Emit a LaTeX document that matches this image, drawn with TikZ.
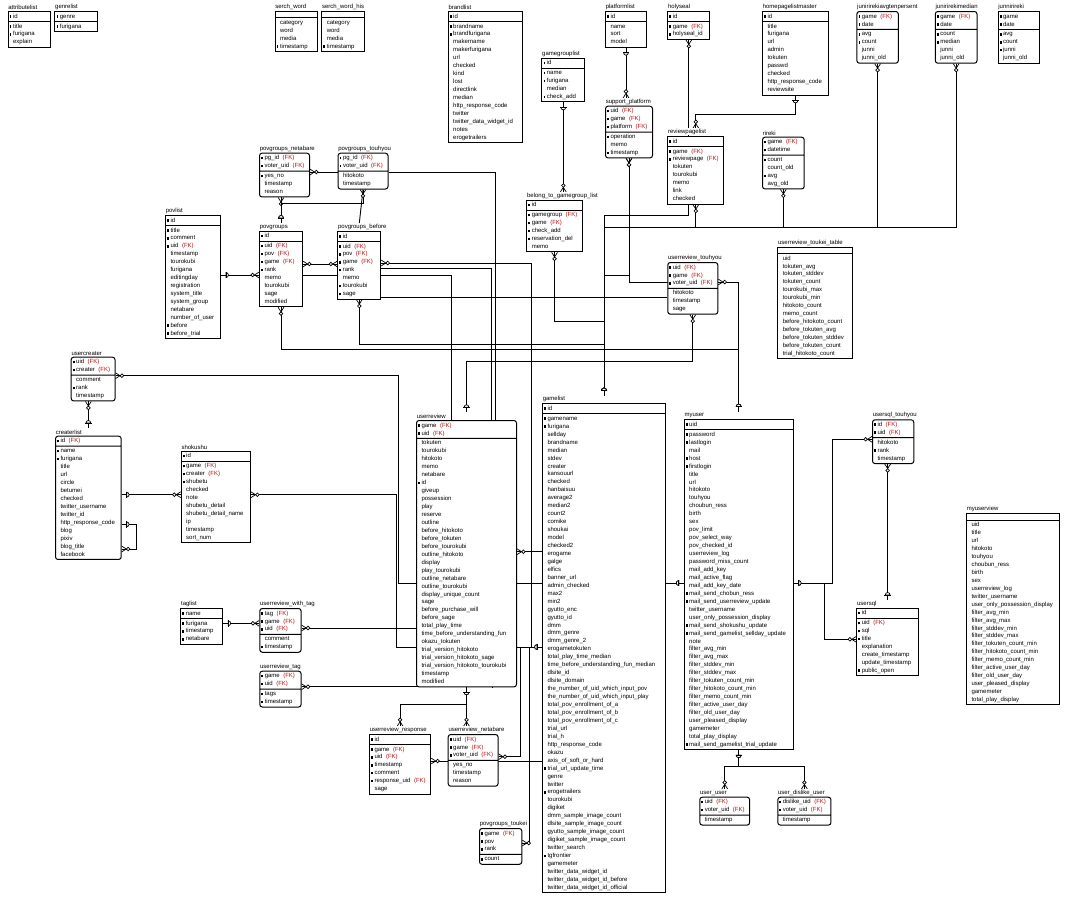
\documentclass[tikz,border=0pt]{standalone}
\usepackage{fontspec}
\newfontfamily\erfont{Liberation Sans}
\usetikzlibrary{shapes.multipart,decorations.markings}
\pgfdeclarelayer{bg}
\pgfsetlayers{bg,main}
\definecolor{fkred}{RGB}{180,20,20}
\newcommand\pkey{\llap{\rule[0.4pt]{1.8pt}{2.6pt}\hspace{1.6pt}}}
\newcommand\fkey{\hspace{3.5pt}\textcolor{fkred}{(FK)}}
\newcommand\entity[7][]{%
  \def\entkeys{#6}%
  \ifx\entkeys\empty\def\entbody{}\else\def\entbody{\strut#6\strut}\fi
  \node[ent,#1,minimum width=#4pt,label={[entlabel]north west:#5}] (#2) at (#3)
    {\entbody\nodepart{two}\strut#7\strut};
  \coordinate (#2-top) at ([yshift=7.8pt]#2.north);}
\tikzset{
  ent/.style={rectangle split,rectangle split parts=2,rectangle split part align=left,
    draw,line width=1pt,fill=white,anchor=north west,align=left,
    inner xsep=5pt,inner ysep=0.5pt,font=\erfont\fontsize{6}{7.95}\selectfont},
  dep/.style={rounded corners=2.5pt},
  entlabel/.style={anchor=south west,inner sep=0.6pt,yshift=0.6pt,fill=white,
    font=\erfont\fontsize{6}{7}\selectfont},
  rel/.style={line width=0.9pt},
  onemark/.style={postaction={decorate,decoration={markings,mark=at position 0 with {
    \draw[line width=0.7pt,fill=white] (5pt,-2.4pt) arc[start angle=-90,end angle=90,radius=2.4pt] -- cycle;
    \draw[line width=0.7pt] (5pt,-3.2pt) -- (5pt,3.2pt);}}}},
  manymark/.style={postaction={decorate,decoration={markings,mark=at position 1 with {
    \draw[line width=0.7pt] (0pt,-2.9pt) -- (-4.5pt,0pt) -- (0pt,2.9pt);
    \draw[line width=0.7pt,fill=white] (-6.4pt,0pt) circle[radius=1.8pt];}}}},
  manyfrom/.style={postaction={decorate,decoration={markings,mark=at position 0 with {
    \draw[line width=0.7pt] (0pt,-2.9pt) -- (4.5pt,0pt) -- (0pt,2.9pt);
    \draw[line width=0.7pt,fill=white] (6.4pt,0pt) circle[radius=1.8pt];}}}}
}
\begin{document}
\begin{tikzpicture}[x=1pt,y=-1pt]
\useasboundingbox (0,0) rectangle (1071,900);

\entity{attributelist}{7.6,11}{42}{attributelist}{\pkey id}{\pkey title\\ \pkey furigana\\ explain}
\entity{genrelist}{54.4,11}{42.4}{genrelist}{\pkey genre}{\pkey furigana}
\entity{serchword}{274.5,11}{42}{serch\_word}{}{category\\ word\\ media\\ \pkey timestamp}
\entity{serchwordhis}{321.3,11}{42.7}{serch\_word\_his}{}{category\\ word\\ media\\ \pkey timestamp}
\entity{brandlist}{447.7,11}{74}{brandlist}{\pkey id}{\pkey brandname\\ \pkey brandfurigana\\ makername\\ makerfurigana\\ url\\ checked\\ kind\\ lost\\ directlink\\ median\\ http\_response\_code\\ twitter\\ twitter\_data\_widget\_id\\ notes\\ erogetrailers}
\entity{platformlist}{605,11}{41}{platformlist}{\pkey id}{name\\ sort\\ model}
\entity{holyseal}{667.3,11}{42}{holyseal}{\pkey id}{\pkey game\fkey\\ \pkey holyseal\_id}
\entity{homepagelistmaster}{762,11}{66}{homepagelistmaster}{\pkey id}{title\\ furigana\\ url\\ admin\\ tokuten\\ passwd\\ checked\\ http\_response\_code\\ reviewsite}
\entity[dep]{junirirekiavg}{856.4,11}{41.4}{junirirekiavgtenpersent}{\pkey game\fkey\\ \pkey date}{\pkey avg\\ \pkey count\\ junni\\ junni\_old}
\entity[dep]{junirirekimedian}{934.8,11}{41.7}{junirirekimedian}{\pkey game\fkey\\ \pkey date}{\pkey count\\ \pkey median\\ junni\\ junni\_old}
\entity{junnirireki}{997.6,11}{41.7}{junnirireki}{\pkey game\\ \pkey date}{\pkey avg\\ \pkey count\\ \pkey junni\\ junni\_old}
\entity{gamegrouplist}{541.4,57.7}{42.8}{gamegrouplist}{\pkey id}{\pkey name\\ \pkey furigana\\ median\\ \pkey check\_add}
\entity[dep]{supportplatform}{605,105.7}{47}{support\_platform}{\pkey uid\fkey\\ \pkey game\fkey\\ \pkey platform\fkey}{\pkey operation\\ memo\\ \pkey timestamp}
\entity{reviewpagelist}{667.3,136}{56}{reviewpagelist}{\pkey id}{\pkey game\fkey\\ \pkey reviewpage\fkey\\ tokuten\\ tourokubi\\ memo\\ link\\ checked}
\entity[dep]{rireki}{762,136.7}{41.7}{rireki}{\pkey game\fkey\\ \pkey datetime}{\pkey count\\ count\_old\\ \pkey avg\\ avg\_old}
\entity[dep]{povgroupsnetabare}{259,152.7}{50}{povgroups\_netabare}{\pkey pg\_id\fkey\\ \pkey voter\_uid\fkey}{\pkey yes\_no\\ timestamp\\ reason}
\entity[dep]{povgroupstouhyou}{337.5,152.7}{50}{povgroups\_touhyou}{\pkey pg\_id\fkey\\ \pkey voter\_uid\fkey}{hitokoto\\ timestamp}
\entity{povlist}{165,215}{55}{povlist}{\pkey id}{\pkey title\\ \pkey comment\\ \pkey uid\fkey\\ timestamp\\ tourokubi\\ furigana\\ editingday\\ registration\\ system\_title\\ system\_group\\ netabare\\ number\_of\_user\\ \pkey before\\ \pkey before\_trial}
\entity{povgroups}{259,230.7}{43}{povgroups}{\pkey id}{\pkey uid\fkey\\ \pkey pov\fkey\\ \pkey game\fkey\\ \pkey rank\\ memo\\ tourokubi\\ sage\\ modified}
\entity{povgroupsbefore}{337.3,231}{43}{povgroups\_before}{\pkey id}{\pkey uid\fkey\\ \pkey pov\fkey\\ \pkey game\fkey\\ \pkey rank\\ memo\\ \pkey tourokubi\\ \pkey sage}
\entity{belonggroup}{526.3,199.7}{55.3}{belong\_to\_gamegroup\_list}{\pkey id}{\pkey gamegroup\fkey\\ \pkey game\fkey\\ \pkey check\_add\\ \pkey reservation\_del\\ memo}
\entity[dep]{userreviewtouhyou}{667.3,262}{50}{userreview\_touhyou}{\pkey uid\fkey\\ \pkey game\fkey\\ \pkey voter\_uid\fkey}{hitokoto\\ timestamp\\ sage}
\entity{toukeitable}{777.3,246.7}{74.4}{userreview\_toukei\_table}{}{uid\\ tokuten\_avg\\ tokuten\_stddev\\ tokuten\_count\\ tourokubi\_max\\ tourokubi\_min\\ hitokoto\_count\\ memo\_count\\ before\_hitokoto\_count\\ before\_tokuten\_avg\\ before\_tokuten\_stddev\\ before\_tokuten\_count\\ trial\_hitokoto\_count}
\entity[dep]{usercreater}{70.7,356.7}{43.3}{usercreater}{\pkey uid\fkey\\ \pkey creater\fkey}{comment\\ \pkey rank\\ timestamp}
\entity[dep]{createrlist}{55,435.7}{65.7}{createrlist}{\pkey id\fkey}{\pkey name\\ \pkey furigana\\ title\\ url\\ circle\\ betumei\\ checked\\ twitter\_username\\ twitter\_id\\ http\_response\_code\\ blog\\ pixiv\\ blog\_title\\ facebook}
\entity{shokushu}{180.7,450.7}{69.3}{shokushu}{\pkey id}{\pkey game\fkey\\ \pkey creater\fkey\\ \pkey shubetu\\ checked\\ note\\ shubetu\_detail\\ shubetu\_detail\_name\\ ip\\ timestamp\\ sort\_num}
\entity[dep]{userreview}{416,420}{100}{userreview}{\pkey game\fkey\\ \pkey uid\fkey}{tokuten\\ tourokubi\\ hitokoto\\ memo\\ netabare\\ \pkey id\\ giveup\\ possession\\ play\\ reserve\\ outline\\ before\_hitokoto\\ before\_tokuten\\ before\_tourokubi\\ outline\_hitokoto\\ display\\ play\_tourokubi\\ outline\_netabare\\ outline\_tourokubi\\ display\_unique\_count\\ sage\\ before\_purchase\_will\\ before\_sage\\ total\_play\_time\\ time\_before\_understanding\_fun\\ okazu\_tokuten\\ trial\_version\_hitokoto\\ trial\_version\_hitokoto\_sage\\ trial\_version\_hitokoto\_tourokubi\\ timestamp\\ modified}
\entity{gamelist}{542,403.3}{123}{gamelist}{\pkey id}{\pkey gamename\\ \pkey furigana\\ sellday\\ brandname\\ median\\ stdev\\ creater\\ kansouurl\\ checked\\ hanbaisuu\\ average2\\ median2\\ count2\\ comike\\ shoukai\\ model\\ checked2\\ erogame\\ galge\\ elfics\\ banner\_url\\ admin\_checked\\ max2\\ min2\\ gyutto\_enc\\ gyutto\_id\\ dmm\\ dmm\_genre\\ dmm\_genre\_2\\ erogametokuten\\ total\_play\_time\_median\\ time\_before\_understanding\_fun\_median\\ dlsite\_id\\ dlsite\_domain\\ the\_number\_of\_uid\_which\_input\_pov\\ the\_number\_of\_uid\_which\_input\_play\\ total\_pov\_enrollment\_of\_a\\ total\_pov\_enrollment\_of\_b\\ total\_pov\_enrollment\_of\_c\\ trial\_url\\ trial\_h\\ http\_response\_code\\ okazu\\ axis\_of\_soft\_or\_hard\\ \pkey trial\_url\_update\_time\\ genre\\ twitter\\ \pkey erogetrailers\\ tourokubi\\ digiket\\ dmm\_sample\_image\_count\\ dlsite\_sample\_image\_count\\ gyutto\_sample\_image\_count\\ digiket\_sample\_image\_count\\ twitter\_search\\ \pkey tgfrontier\\ gamemeter\\ twitter\_data\_widget\_id\\ twitter\_data\_widget\_id\_before\\ twitter\_data\_widget\_id\_official}
\entity{myuser}{683.7,419.3}{109}{myuser}{\pkey uid}{\pkey password\\ \pkey lastlogin\\ mail\\ \pkey host\\ \pkey firstlogin\\ title\\ url\\ hitokoto\\ touhyou\\ choubun\_ress\\ birth\\ sex\\ pov\_limit\\ pov\_select\_way\\ pov\_checked\_id\\ userreview\_log\\ password\_miss\_count\\ mail\_add\_key\\ mail\_active\_flag\\ mail\_add\_key\_date\\ \pkey mail\_send\_chobun\_ress\\ \pkey mail\_send\_userreview\_update\\ twitter\_username\\ user\_only\_possession\_display\\ \pkey mail\_send\_shokushu\_update\\ \pkey mail\_send\_gamelist\_sellday\_update\\ note\\ filter\_avg\_min\\ filter\_avg\_max\\ filter\_stddev\_min\\ filter\_stddev\_max\\ filter\_tokuten\_count\_min\\ filter\_hitokoto\_count\_min\\ filter\_memo\_count\_min\\ filter\_active\_user\_day\\ filter\_old\_user\_day\\ user\_pleased\_display\\ gamemeter\\ total\_play\_display\\ \pkey mail\_send\_gamelist\_trial\_update}
\entity[dep]{usersqltouhyou}{872,419.3}{41.3}{usersql\_touhyou}{\pkey id\fkey\\ \pkey uid\fkey}{hitokoto\\ \pkey rank\\ timestamp}
\entity{usersql}{856.3,607.7}{61.7}{usersql}{\pkey id}{\pkey uid\fkey\\ \pkey sql\\ \pkey title\\ explanation\\ create\_timestamp\\ update\_timestamp\\ \pkey public\_open}
\entity{myuserview}{966,513.3}{92.7}{myuserview}{}{uid\\ title\\ url\\ hitokoto\\ touhyou\\ choubun\_ress\\ birth\\ sex\\ userreview\_log\\ twitter\_username\\ user\_only\_possession\_display\\ filter\_avg\_min\\ filter\_avg\_max\\ filter\_stddev\_min\\ filter\_stddev\_max\\ filter\_tokuten\_count\_min\\ filter\_hitokoto\_count\_min\\ filter\_memo\_count\_min\\ filter\_active\_user\_day\\ filter\_old\_user\_day\\ user\_pleased\_display\\ gamemeter\\ total\_play\_display}
\entity{taglist}{180.3,608}{42}{taglist}{\pkey name}{\pkey furigana\\ \pkey timestamp\\ \pkey netabare}
\entity[dep]{userreviewwithtag}{259.3,608}{41.3}{userreview\_with\_tag}{\pkey tag\fkey\\ \pkey game\fkey\\ \pkey uid\fkey}{comment\\ \pkey timestamp}
\entity[dep]{userreviewtag}{259.3,670.7}{41.3}{userreview\_tag}{\pkey game\fkey\\ \pkey uid\fkey}{\pkey tags\\ \pkey timestamp}
\entity{userreviewresponse}{369,734}{60.3}{userreview\_response}{\pkey id}{\pkey game\fkey\\ \pkey uid\fkey\\ \pkey timestamp\\ \pkey comment\\ \pkey response\_uid\fkey\\ sage}
\entity[dep]{userreviewnetabare}{447.7,734}{49.7}{userreview\_netabare}{\pkey uid\fkey\\ \pkey game\fkey\\ \pkey voter\_uid\fkey}{yes\_no\\ timestamp\\ reason}
\entity[dep]{povgroupstoukei}{479,828}{42.3}{povgroups\_toukei}{\pkey game\fkey\\ \pkey pov\\ \pkey rank}{\pkey count}
\entity[dep]{useruser}{699.3,796.7}{49.4}{user\_user}{\pkey uid\fkey\\ \pkey voter\_uid\fkey}{timestamp}
\entity[dep]{userdislikeuser}{777.3,796.7}{52.7}{user\_dislike\_user}{\pkey dislike\_uid\fkey\\ \pkey voter\_uid\fkey}{timestamp}

\coordinate (glleft) at (gamelist.west |- 0,647);
\coordinate (muleft) at (myuser.west |- 0,583);
\coordinate (muright) at (myuser.east |- 0,583);

\begin{pgfonlayer}{bg}
\fill[white] (0,0) rectangle (1071,900);
\draw[rel] (userreview.north -| 495.7,0) |- (povgroupstouhyou.east |- 0,172);
\draw[rel,manymark] (povgroupstouhyou.west |- 0,172) -- (povgroupsnetabare.east |- 0,172);
\draw[rel] (povgroupstouhyou.south) -- (povgroupsbefore-top);
\draw[rel] (povgroups.east |- 0,275) -| (userreview.north -| 451.7,0);
\draw[rel] (povgroupsbefore.east |- 0,268) -| (userreview.north -| 491.7,0);
\draw[rel] (povgroupsbefore.south) |- (userreviewtouhyou.west |- 0,297);
\draw[rel,manyfrom,manymark] (povgroups.east |- 0,264) -- (povgroupsbefore.west |- 0,264);
\draw[rel,manymark] (gamelist.west |- 0,551.7) -- (userreview.east |- 0,551.7);
\draw[rel,manymark] (userreview.west |- 0,628) -- (userreviewwithtag.east |- 0,628);
\draw[rel,manymark] (userreview.south -| 492,0) |- (userreviewtag.east |- 0,686.7);
\draw[rel,manymark] (gamelist.west |- 0,761) -- (userreviewresponse.east |- 0,761);
\draw[rel,manymark] (glleft) -- (520,647) |- (userreviewnetabare.east |- 0,756.7);
\draw[rel,manymark] (glleft) -- (529.3,647) |- (povgroupstoukei.east |- 0,843);
\draw[rel,onemark] (muleft) -- (userreview.east |- 0,583);

\draw[rel,onemark,manymark] (platformlist.south) -- (platformlist.south |- supportplatform-top);
\draw[rel,onemark,manymark] (gamegrouplist.south) -- (gamegrouplist.south |- belonggroup-top);
\draw[rel,onemark,manymark] (homepagelistmaster.south) -- ++(0,19) -| (reviewpagelist-top);
\draw[rel,onemark,manymark] (gamelist-top) |- (holyseal.south |- 0,215) -- (holyseal.south);
\draw[rel,onemark,manymark] (gamelist-top) |- (reviewpagelist.south |- 0,227) -- (reviewpagelist.south);
\draw[rel,onemark,manymark] (gamelist-top) |- (rireki.south |- 0,227) -- (rireki.south);
\draw[rel,onemark,manymark] (gamelist-top) |- (junirirekiavg.south |- 0,227) -- (junirirekiavg.south);
\draw[rel,onemark,manymark] (gamelist-top) |- (junirirekimedian.south |- 0,227) -- (junirirekimedian.south);
\draw[rel,onemark,manymark] (gamelist-top) |- (supportplatform.south |- 0,275) -- (supportplatform.south);
\draw[rel,onemark,manymark] (gamelist-top) |- (belonggroup.south |- 0,321) -- (belonggroup.south);
\draw[rel,onemark,manymark] (gamelist-top) |- (povgroupsbefore.south |- 0,344) -- (povgroupsbefore.south);
\draw[rel,onemark,manymark] (myuser-top) |- (supportplatform.south |- 0,282) -- (supportplatform.south);
\draw[rel,onemark,manymark] (myuser-top) |- (povgroups.south |- 0,349) -- (povgroups.south);
\draw[rel,onemark,manymark] (myuser-top) |- (userreviewtouhyou.north east |- 0,282);
\draw[rel,onemark,manymark] (userreview-top) |- (userreviewtouhyou.south |- 0,361) -- (userreviewtouhyou.south);
\draw[rel,onemark,manymark] (povgroups-top) -- (povgroups-top |- povgroupsnetabare.south);
\draw[rel,onemark,manymark] (povgroups-top) |- (povgroupstouhyou.south |- 0,203) -- (povgroupstouhyou.south);
\draw[rel,onemark,manymark] (povlist.east |- 0,275) -- (povgroups.west |- 0,275);
\draw[rel,onemark,manymark] (glleft) -- (531,647) |- (povgroupsbefore.east |- 0,263);
\draw[rel,onemark,manymark] (glleft) -- (396.7,647) |- (shokushu.east |- 0,494.7);
\draw[rel,onemark,manymark] (muleft) -- (398.3,583) |- (usercreater.east |- 0,375.7);
\draw[rel,onemark,manymark] (createrlist.east |- 0,494.7) -- (shokushu.west |- 0,494.7);
\draw[rel,onemark,manymark] (createrlist.east |- 0,524.3) -- (136.7,524.3) |- (createrlist.east |- 0,549);
\draw[rel,onemark,manymark] (createrlist-top) -- (createrlist-top |- usercreater.south);
\draw[rel,onemark,manymark] (taglist.east |- 0,623.3) -- (userreviewwithtag.west |- 0,623.3);
\draw[rel,onemark,manymark] (userreview.south) -- (userreview.south |- 0,704) -| (userreviewresponse-top);
\draw[rel,onemark,manymark] (userreview.south) -- (userreview.south |- userreviewnetabare-top);
\draw[rel,onemark,manymark] (muright) -- (832.3,583) |- (usersqltouhyou.west |- 0,439.3);
\draw[rel,onemark,manymark] (muright) -- (824.3,583) |- (usersql.west |- 0,639.3);
\draw[rel,onemark,manymark] (usersql-top) -- (usersql-top |- usersqltouhyou.south);
\draw[rel,onemark,manymark] (myuser.south) -- (myuser.south |- 0,766.7) -| (useruser-top);
\draw[rel,onemark,manymark] (myuser.south) -- (myuser.south |- 0,766.7) -| (userdislikeuser-top);
\end{pgfonlayer}
\end{tikzpicture}
\end{document}
